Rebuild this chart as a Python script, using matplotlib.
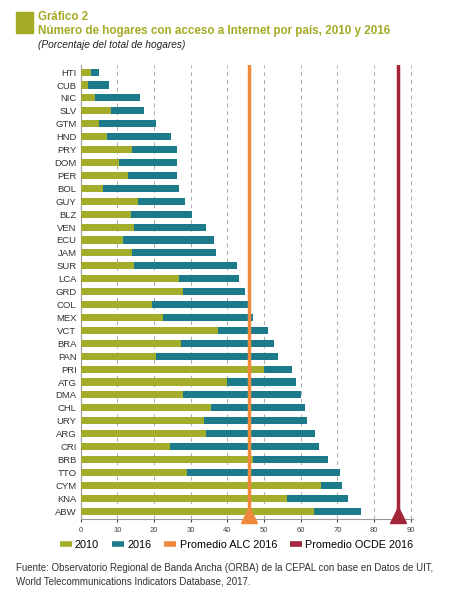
import matplotlib
matplotlib.use("Agg")
import matplotlib.pyplot as plt
from matplotlib.lines import Line2D

plt.rcParams['font.family'] = ['Liberation Sans', 'DejaVu Sans']

# datos (porcentaje de hogares)
paises = ['HTI', 'CUB', 'NIC', 'SLV', 'GTM', 'HND', 'PRY', 'DOM', 'PER', 'BOL',
          'GUY', 'BLZ', 'VEN', 'ECU', 'JAM', 'SUR', 'LCA', 'GRD', 'COL', 'MEX',
          'VCT', 'BRA', 'PAN', 'PRI', 'ATG', 'DMA', 'CHL', 'URY', 'ARG', 'CRI',
          'BRB', 'TTO', 'CYM', 'KNA', 'ABW']
v2010 = [2.8, 1.9, 4.0, 8.2, 5.1, 7.1, 14.1, 10.4, 13.0, 6.2,
         15.6, 13.6, 14.5, 11.5, 14.1, 14.5, 26.9, 28.0, 19.4, 22.5,
         37.5, 27.4, 20.4, 50.0, 39.9, 27.8, 35.4, 33.6, 34.2, 24.3,
         46.9, 29.1, 65.6, 56.2, 63.5]
v2016 = [5.1, 7.7, 16.2, 17.3, 20.4, 24.6, 26.3, 26.3, 26.3, 26.8,
         28.4, 30.4, 34.2, 36.4, 36.9, 42.6, 43.2, 44.7, 45.5, 46.9,
         51.1, 52.7, 53.7, 57.5, 58.6, 60.1, 61.2, 61.7, 63.8, 64.9,
         67.5, 70.8, 71.3, 72.9, 76.5]
prom_alc = 45.8
prom_ocde = 86.6

verde = '#a3ad2b'
azul = '#1b7b8b'
naranja = '#f0893b'
rojo = '#a3253a'
titulo_col = '#a4ab25'

fig = plt.figure(figsize=(4.61, 5.91), dpi=100)
ax = fig.add_axes([0.175, 0.122, 0.721, 0.768])

y = list(range(len(paises)))
ax.barh(y, v2016, height=0.55, color=azul, zorder=3)
ax.barh(y, v2010, height=0.55, color=verde, zorder=4)

ax.axvline(prom_alc, color=naranja, lw=2.5, zorder=5)
ax.axvline(prom_ocde, color=rojo, lw=2.5, zorder=5)
ax.plot([prom_alc], [len(paises) - 0.7], marker='^', ms=12, color=naranja,
        clip_on=False, zorder=6)
ax.plot([prom_ocde], [len(paises) - 0.7], marker='^', ms=12, color=rojo,
        clip_on=False, zorder=6)

ax.set_xlim(0, 90.6)
ax.set_ylim(len(paises) - 0.4, -0.55)
ax.set_yticks(y)
ax.set_yticklabels(paises, fontsize=6.8, color='#333333')
ax.set_xticks(range(0, 91, 10))
ax.tick_params(axis='x', labelsize=5.5, colors='#444444', length=2)
ax.tick_params(axis='y', length=0, pad=3)
ax.grid(axis='x', ls=(0, (4, 4)), color='#aaaaaa', lw=0.7, zorder=0)
for s in ['top', 'right']:
    ax.spines[s].set_visible(False)
for s in ['left', 'bottom']:
    ax.spines[s].set_color('#999999')

handles = [Line2D([], [], color=c, lw=4, solid_capstyle='butt')
           for c in [verde, azul, naranja, rojo]]
fig.legend(handles, ['2010', '2016', 'Promedio ALC 2016', 'Promedio OCDE 2016'],
           loc='center', bbox_to_anchor=(0.513, 0.078), ncol=4, frameon=False,
           fontsize=7.8, handlelength=1.1, handletextpad=0.3, columnspacing=1.2)

# titulo
fig.patches.append(plt.Rectangle((16 / 461, 1 - 33 / 591), 17 / 461, 21 / 591,
                                 transform=fig.transFigure, color=titulo_col))
fig.text(38 / 461, 1 - 17 / 591, 'Gráfico 2', fontsize=8.3, weight='bold',
         color=titulo_col, va='center')
fig.text(38 / 461, 1 - 31 / 591,
         'Número de hogares con acceso a Internet por país, 2010 y 2016',
         fontsize=8.4, weight='bold', color=titulo_col, va='center')
fig.text(38 / 461, 1 - 45 / 591, '(Porcentaje del total de hogares)',
         fontsize=7.3, style='italic', color='#222222', va='center')

fig.text(16 / 461, 1 - 568 / 591,
         'Fuente: Observatorio Regional de Banda Ancha (ORBA) de la CEPAL con base en Datos de UIT,',
         fontsize=7.0, color='#333333', va='center')
fig.text(16 / 461, 1 - 581 / 591,
         'World Telecommunications Indicators Database, 2017.',
         fontsize=7.0, color='#333333', va='center')

fig.savefig('out.png', dpi=100)
